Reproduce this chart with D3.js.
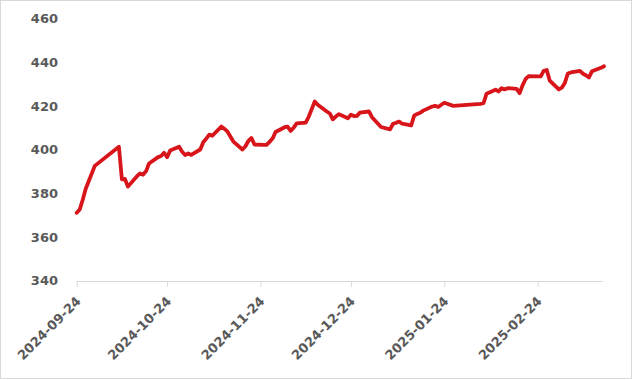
<!DOCTYPE html>
<html>
<head>
<meta charset="utf-8">
<script src="https://cdn.jsdelivr.net/npm/d3@7"></script>
<style>
  html, body { margin: 0; padding: 0; background: #fff; }
  svg { display: block; }
</style>
</head>
<body>
<svg id="chart" width="636" height="380"></svg>
<script>
const dates = [
  "2024-09-24","2024-09-25","2024-09-26","2024-09-27","2024-09-30",
  "2024-10-08","2024-10-09","2024-10-10","2024-10-11","2024-10-14","2024-10-15","2024-10-16","2024-10-17","2024-10-18",
  "2024-10-21","2024-10-22","2024-10-23","2024-10-24","2024-10-25","2024-10-28","2024-10-29","2024-10-30","2024-10-31",
  "2024-11-01","2024-11-04","2024-11-05","2024-11-06","2024-11-07","2024-11-08","2024-11-11","2024-11-12","2024-11-13",
  "2024-11-14","2024-11-15","2024-11-18","2024-11-19","2024-11-20","2024-11-21","2024-11-22","2024-11-25","2024-11-26",
  "2024-11-27","2024-11-28","2024-11-29",
  "2024-12-02","2024-12-03","2024-12-04","2024-12-05","2024-12-06","2024-12-09","2024-12-10","2024-12-11","2024-12-12",
  "2024-12-13","2024-12-16","2024-12-17","2024-12-18","2024-12-19","2024-12-20","2024-12-23","2024-12-24","2024-12-25",
  "2024-12-26","2024-12-27","2024-12-30","2024-12-31",
  "2025-01-02","2025-01-03","2025-01-06","2025-01-07","2025-01-08","2025-01-09","2025-01-10","2025-01-13","2025-01-14",
  "2025-01-15","2025-01-16","2025-01-17","2025-01-20","2025-01-21","2025-01-22","2025-01-23","2025-01-24","2025-01-27",
  "2025-02-05","2025-02-06","2025-02-07","2025-02-10","2025-02-11","2025-02-12","2025-02-13","2025-02-14","2025-02-17",
  "2025-02-18","2025-02-19","2025-02-20","2025-02-21","2025-02-24","2025-02-25","2025-02-26","2025-02-27","2025-02-28",
  "2025-03-03","2025-03-04","2025-03-05","2025-03-06","2025-03-07","2025-03-10","2025-03-11","2025-03-12","2025-03-13",
  "2025-03-14","2025-03-17","2025-03-18"
];
const values = [
  371.0,372.5,377.0,382.0,392.5,
  401.3,386.3,386.5,383.0,387.8,389.0,388.5,390.0,393.6,
  396.5,397.0,398.5,396.5,399.5,401.3,399.0,397.5,398.2,
  397.5,400.0,403.3,405.0,406.8,406.3,410.5,409.5,408.3,
  406.0,403.6,400.0,401.5,404.0,405.3,402.3,402.1,402.1,
  403.5,405.0,408.0,
  410.2,410.5,408.5,410.0,412.0,412.3,415.0,418.5,422.0,
  420.5,417.4,416.5,413.8,415.1,416.2,414.3,415.9,415.3,
  415.4,416.9,417.4,414.8,
  411.8,410.3,409.2,411.8,412.2,412.8,411.8,411.0,415.5,
  416.3,416.8,417.8,419.7,420.0,419.5,420.5,421.4,420.0,
  420.9,421.2,425.5,427.4,426.6,428.1,427.5,428.1,427.8,
  425.8,429.5,432.3,433.6,433.5,433.5,436.0,436.4,431.5,
  427.5,428.3,430.5,434.8,435.3,436.0,434.7,434.0,433.0,
  435.8,437.4,438.1
];
const xTickLabels = ["2024-09-24","2024-10-24","2024-11-24","2024-12-24","2025-01-24","2025-02-24"];
const yTicks = [340, 360, 380, 400, 420, 440, 460];

const parse = d3.utcParse("%Y-%m-%d");
const data = dates.map((d, i) => ({ date: parse(d), value: values[i] }));

const svg = d3.select("#chart");

// outer border
svg.append("rect")
  .attr("x", 0.5).attr("y", 0.5)
  .attr("width", 631).attr("height", 378)
  .attr("fill", "#fff")
  .attr("stroke", "#d9d9d9")
  .attr("stroke-width", 1);

const x = d3.scaleUtc()
  .domain([parse("2024-09-24"), parse("2025-03-18")])
  .range([76.7, 604]);
const y = d3.scaleLinear()
  .domain([340, 460])
  .range([280.5, 18.5]);

// y labels
const yAxis = d3.axisLeft(y).tickValues(yTicks).tickSize(0).tickPadding(0);
const gy = svg.append("g").attr("transform", "translate(58,0)").call(yAxis);
gy.select(".domain").remove();
gy.selectAll("text")
  .attr("fill", "#595959")
  .attr("font-family", "DejaVu Sans, sans-serif")
  .attr("font-weight", "bold")
  .attr("font-size", 13);

// x axis
const xAxis = d3.axisBottom(x)
  .tickValues(xTickLabels.map(parse))
  .tickSize(6)
  .tickSizeOuter(0)
  .tickFormat(d3.utcFormat("%Y-%m-%d"));
const gx = svg.append("g").attr("transform", "translate(0,281)").call(xAxis);
gx.select(".domain").attr("stroke", "#d9d9d9").attr("d", `M${x.range()[0]},0.5H603`);
gx.selectAll(".tick line").attr("stroke", "#d9d9d9");
gx.selectAll(".tick text")
  .attr("fill", "#595959")
  .attr("font-family", "DejaVu Sans, sans-serif")
  .attr("font-weight", "bold")
  .attr("font-size", 13)
  .attr("text-anchor", "end")
  .attr("y", 0).attr("dy", 0)
  .attr("transform", "translate(4.5,21) rotate(-45)");

// line
const line = d3.line()
  .x(d => x(d.date))
  .y(d => y(d.value));
svg.append("path")
  .datum(data)
  .attr("fill", "none")
  .attr("stroke", "#d7151b")
  .attr("stroke-width", 3.8)
  .attr("stroke-linejoin", "round")
  .attr("stroke-linecap", "round")
  .attr("d", line);
</script>
</body>
</html>
